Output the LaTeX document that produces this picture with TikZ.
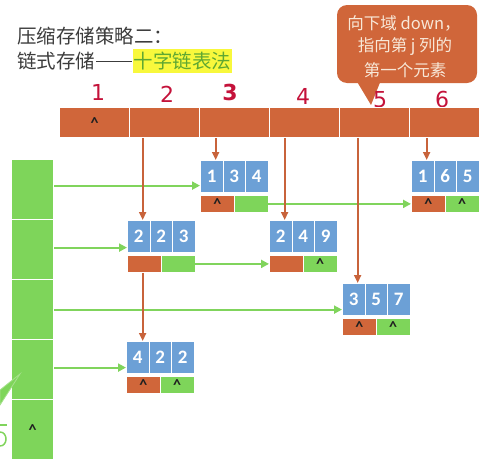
\documentclass[tikz,border=0pt]{standalone}
\usepackage{fontspec}
\setmainfont{Carlito}
\newfontfamily\cjk{Noto Sans CJK SC}
\newfontfamily\handf{DejaVu Sans}
\usetikzlibrary{arrows.meta}
\definecolor{hdr}{HTML}{D0663A}
\definecolor{blu}{HTML}{6CA0D6}
\definecolor{grn}{HTML}{7ED55A}
\definecolor{oarr}{HTML}{C8633B}
\definecolor{garrc}{HTML}{80D45C}
\definecolor{ttl}{HTML}{3C3C3C}
\definecolor{hl}{HTML}{F8F83C}
\definecolor{hlt}{HTML}{5FA832}
\definecolor{numc}{HTML}{C4123A}
\definecolor{bubtxt}{HTML}{F8E8D8}
\definecolor{crt}{HTML}{202020}
\newcommand\mycaret{\textasciicircum}
\tikzset{
 hcell/.style={fill=hdr, draw=white, line width=1.2pt, minimum width=70pt, minimum height=30pt, inner sep=0pt, anchor=north west, font=\fontsize{16}{16}\selectfont\bfseries, text=crt},
 rcell/.style={fill=grn, draw=white, line width=1.2pt, minimum width=42pt, minimum height=60pt, inner sep=0pt, anchor=north west, font=\fontsize{16}{16}\selectfont\bfseries, text=crt},
 vcell/.style={fill=blu, draw=white, line width=0.8pt, minimum width=22.5pt, minimum height=32pt, inner sep=0pt, anchor=north west, text=white, font=\fontsize{19}{19}\selectfont\bfseries},
 dcell/.style={fill=hdr, draw=white, line width=0.8pt, minimum width=33.75pt, minimum height=17pt, inner sep=0pt, anchor=north west, font=\fontsize{16}{16}\selectfont\bfseries, text=crt},
 rtcell/.style={dcell, fill=grn},
 darr/.style={draw=oarr, line width=1.8pt, -{Triangle[length=8pt,width=7pt]}},
 garr/.style={draw=garrc, line width=2.2pt, -{Triangle[length=8pt,width=8pt]}},
 hnum/.style={text=numc, font=\handf\fontsize{22}{22}\selectfont, inner sep=0pt},
 bubline/.style={text=bubtxt, font=\cjk\fontsize{16.5}{16.5}\selectfont, inner sep=0pt},
 ttlnode/.style={anchor=west, text=ttl, font=\cjk\fontsize{19.5}{19.5}\selectfont, inner sep=0pt}
}
\newcommand\datanode[8]{%
 \node[vcell] (#1-a) at (#2,#3) {#4};
 \node[vcell] (#1-b) at (#2+22.5,#3) {#5};
 \node[vcell] (#1-c) at (#2+45,#3) {#6};
 \node[dcell] (#1-d) at (#2,#3+35) {#7};
 \node[rtcell] (#1-r) at (#2+33.75,#3+35) {#8};
}
\begin{document}
\begin{tikzpicture}[x=1pt,y=-1pt]
\useasboundingbox (0,0) rectangle (487,458);
% title
\node[ttlnode] (t1) at (17,36) {压缩存储策略二：};
\node[ttlnode] (t2) at (17,61) {链式存储\hspace{1pt}\rule[6pt]{36pt}{1.8pt}\hspace{1pt}};
\node[anchor=west, fill=hl, text=hlt, font=\cjk\fontsize{19.5}{19.5}\selectfont, inner xsep=1pt, inner ysep=0pt, minimum height=24pt] (t3) at (t2.east) {十字链表法};
% callout
\fill[hdr, rounded corners=10pt] (337,5) rectangle (477,83);
\fill[hdr] (356,80) -- (371,105) -- (381,80) -- cycle;
\node[bubline] (b1) at (404,23) {向下域 down，};
\node[bubline] (b2) at (405,47) {指向第 j 列的};
\node[bubline] (b3) at (405,70) {第一个元素};
% header numbers
\node[hnum] (hn1) at (98,92) {1};
\node[hnum] (hn2) at (167,94) {2};
\node[hnum, font=\handf\bfseries\fontsize{22}{22}\selectfont] (hn3) at (230,92) {3};
\node[hnum] (hn4) at (303,96) {4};
\node[hnum] (hn5) at (380,100) {5};
\node[hnum] (hn6) at (442,99) {6};
% header row
\node[hcell] (h1) at (59,107) {\mycaret};
\node[hcell] (h2) at (129,107) {};
\node[hcell] (h3) at (199,107) {};
\node[hcell] (h4) at (269,107) {};
\node[hcell] (h5) at (339,107) {};
\node[hcell] (h6) at (409,107) {};
% row heads
\node[rcell] (r1) at (11,159) {};
\node[rcell] (r2) at (11,219) {};
\node[rcell] (r3) at (11,279) {};
\node[rcell] (r4) at (11,339) {};
\node[rcell] (r5) at (11,399) {\mycaret};
% left fragment of another callout
\filldraw[fill=grn, draw=garrc!70!white, line width=0.8pt] (0,390) -- (20,374) -- (0,405) -- cycle;
\draw[garrc, line width=1.5pt] (0,425) -- (7,425);
\draw[garrc, line width=1.5pt] (0,432) .. controls (8,432) and (8,446) .. (0,446);
% data nodes
\datanode{n134}{200}{160}{1}{3}{4}{\mycaret}{}
\datanode{n165}{411}{160}{1}{6}{5}{\mycaret}{\mycaret}
\datanode{n223}{127}{220}{2}{2}{3}{}{}
\datanode{n249}{269}{220}{2}{4}{9}{}{\mycaret}
\datanode{n357}{342}{283}{3}{5}{7}{\mycaret}{\mycaret}
\datanode{n422}{126}{341}{4}{2}{2}{\mycaret}{\mycaret}
% green arrows
\coordinate (g1) at ([yshift=4pt]r1.east);
\coordinate (g2) at ([yshift=2pt]r2.east);
\coordinate (g3) at (r3.east);
\coordinate (g4) at ([yshift=2pt]r4.east);
\draw[garr] (g1) -- (g1 -| n134-a.west);
\draw[garr] (g2) -- (g2 -| n223-a.west);
\draw[garr] (g3) -- (g3 -| n357-a.west);
\draw[garr] (g4) -- (g4 -| n422-a.west);
\draw[garr] (n134-r.east) -- (n134-r.east -| n165-d.west);
\draw[garr] (n223-r.east) -- (n223-r.east -| n249-d.west);
% orange down arrows
\coordinate (c2) at ([xshift=4pt]n223-a.north);
\coordinate (c3) at ([xshift=4pt]n134-a.north);
\coordinate (c4) at ([xshift=4pt]n249-a.north);
\coordinate (c5) at ([xshift=4pt]n357-a.north);
\coordinate (c6) at ([xshift=4pt]n165-a.north);
\draw[darr] (c2 |- h2.south) -- (c2);
\draw[darr] (c3 |- h3.south) -- (c3);
\draw[darr] (c4 |- h4.south) -- (c4);
\draw[darr] (c5 |- h5.south) -- (c5);
\draw[darr] (c6 |- h6.south) -- (c6);
\draw[darr] (c2 |- n223-d.south) -- (c2 |- n422-a.north);
\end{tikzpicture}
\end{document}
